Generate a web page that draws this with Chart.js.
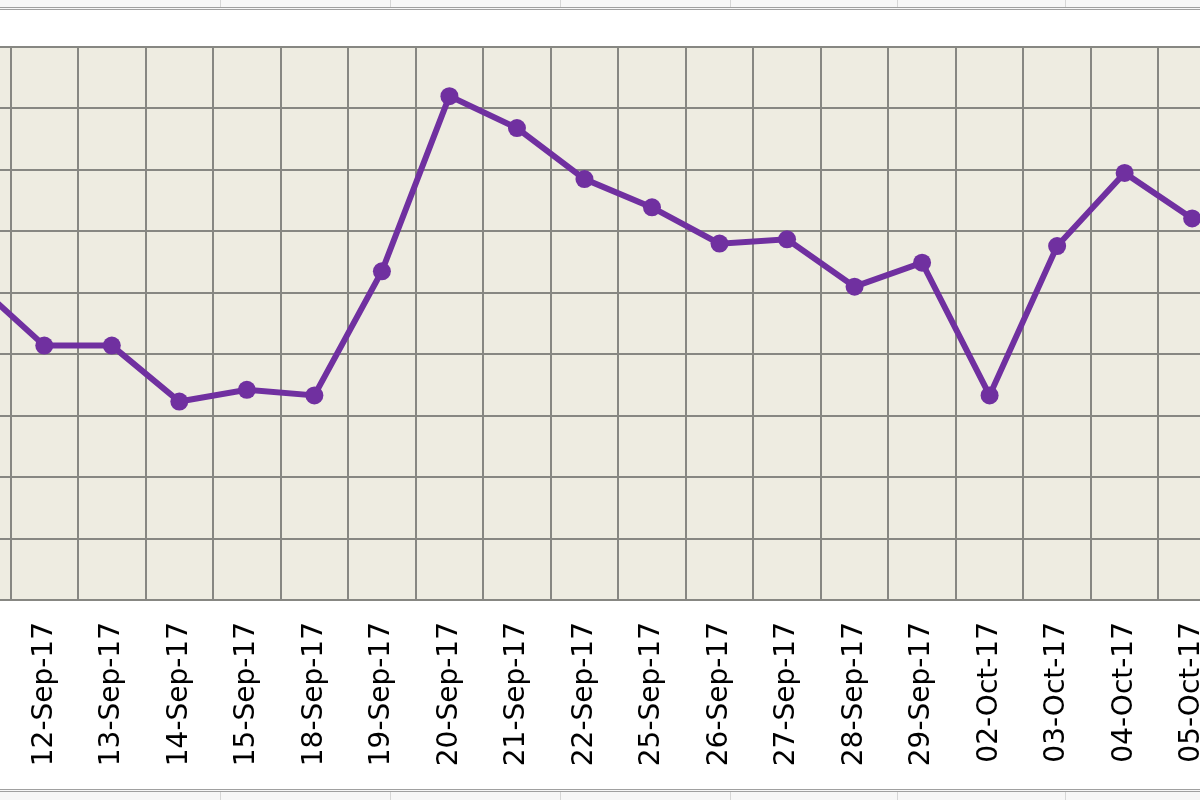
<!DOCTYPE html>
<html>
<head>
<meta charset="utf-8">
<script src="https://cdn.jsdelivr.net/npm/chart.js@4"></script>
<style>
  html, body { margin: 0; padding: 0; background: #fff; overflow: hidden; }
  body { width: 1200px; height: 800px; position: relative; }
  .sheet { position: absolute; left: 0; width: 1200px; height: 7px; background: #f7f7f7; z-index: 2; }
  .sheet.top { top: 0; border-bottom: 3px double #a0a0a0; }
  .sheet.bottom { top: 789px; height: 11px; border-top: 3px double #a0a0a0; }
  .cell { position: absolute; top: 0; bottom: 0; width: 1px; background: #d6d6d6; }
  #wrap { position: absolute; left: -66px; top: 0; width: 1314px; height: 790px; z-index: 1; }
</style>
</head>
<body>
<div class="sheet top" id="sheetTop"></div>
<div class="sheet bottom" id="sheetBottom"></div>
<div id="wrap"><canvas id="chart"></canvas></div>
<script>
// Data
const dates = [
    '11-Sep-17', '12-Sep-17', '13-Sep-17', '14-Sep-17', '15-Sep-17', '18-Sep-17',
    '19-Sep-17', '20-Sep-17', '21-Sep-17', '22-Sep-17', '25-Sep-17', '26-Sep-17',
    '27-Sep-17', '28-Sep-17', '29-Sep-17', '02-Oct-17', '03-Oct-17', '04-Oct-17',
    '05-Oct-17'
];
const values = [
    5.14, 4.14, 4.14, 3.23, 3.42, 3.33,
    5.35, 8.20, 7.68, 6.85, 6.39, 5.80,
    5.87, 5.10, 5.49, 3.33, 5.76, 6.95,
    6.21
];
const yMin = 0;
const yMax = 9;
const yStep = 1;

// Spreadsheet column dividers peeking above/below the chart
const cellEdges = [220, 390, 560, 730, 897, 1065];
['sheetTop', 'sheetBottom'].forEach(id => {
    const strip = document.getElementById(id);
    cellEdges.forEach(x => {
        const d = document.createElement('div');
        d.className = 'cell';
        d.style.left = x + 'px';
        strip.appendChild(d);
    });
});

const lineColor = '#7030A0';
const gridColor = '#878782';

// Plot area fill
const plotBackground = {
    id: 'plotBackground',
    beforeDraw: (chart) => {
        const { ctx, chartArea } = chart;
        ctx.save();
        ctx.fillStyle = '#fff';
        ctx.fillRect(0, 0, chart.width, chart.height);
        ctx.fillStyle = '#EEECE1';
        ctx.fillRect(chartArea.left, chartArea.top, chartArea.right - chartArea.left, chartArea.bottom - chartArea.top);
        ctx.restore();
    }
};

new Chart(document.getElementById('chart').getContext('2d'), {
    type: 'line',
    data: {
        labels: dates,
        datasets: [{
            data: values,
            borderColor: lineColor,
            backgroundColor: lineColor,
            borderWidth: 6,
            pointRadius: 9,
            pointHoverRadius: 9,
            pointBorderWidth: 0,
            tension: 0
        }]
    },
    options: {
        responsive: true,
        maintainAspectRatio: false,
        animation: false,
        devicePixelRatio: 1,
        layout: { padding: { top: 47, left: 0, right: 0, bottom: 0 } },
        plugins: {
            legend: { display: false },
            tooltip: { enabled: false }
        },
        scales: {
            x: {
                offset: true,
                grid: {
                    offset: true,
                    color: gridColor,
                    lineWidth: 2,
                    drawTicks: false
                },
                border: { color: gridColor, width: 2 },
                ticks: {
                    autoSkip: false,
                    minRotation: 90,
                    maxRotation: 90,
                    padding: 22,
                    color: '#000',
                    font: { family: 'DejaVu Sans', size: 28 }
                },
                afterFit: (scale) => { scale.height = 190; }
            },
            y: {
                min: yMin,
                max: yMax,
                grid: {
                    color: gridColor,
                    lineWidth: 2,
                    drawTicks: false
                },
                border: { display: false },
                ticks: { display: false, stepSize: yStep },
                afterFit: (scale) => { scale.width = 0; }
            }
        }
    },
    plugins: [plotBackground]
});
</script>
</body>
</html>
